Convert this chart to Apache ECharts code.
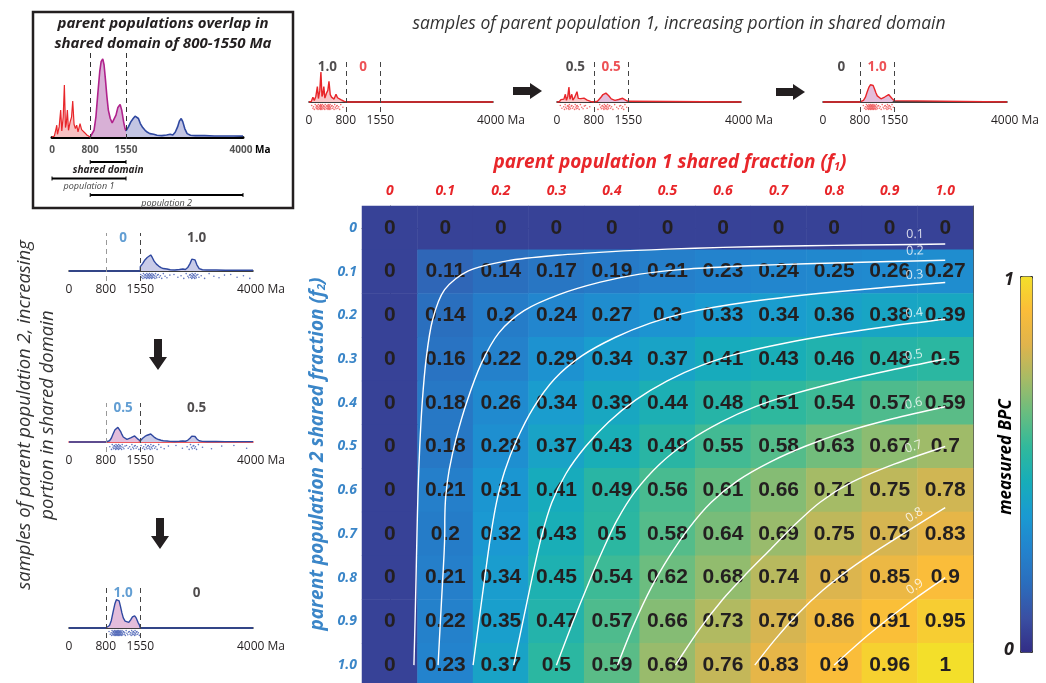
<!DOCTYPE html>
<html>
<head>
<meta charset="utf-8">
<script src="https://cdn.jsdelivr.net/npm/echarts@6/dist/echarts.min.js"></script>
<style>
html, body { margin: 0; padding: 0; background: #fff; }
#main { width: 1046px; height: 683px; }
</style>
</head>
<body>
<div id="main"></div>
<script>
// ---- heatmap data ----
const f1Labels = ['0', '0.1', '0.2', '0.3', '0.4', '0.5', '0.6', '0.7', '0.8', '0.9', '1.0'];
const f2Labels = ['0', '0.1', '0.2', '0.3', '0.4', '0.5', '0.6', '0.7', '0.8', '0.9', '1.0'];
// measured BPC, one row per f2, one column per f1
const bpcRows = [
  [0, 0, 0, 0, 0, 0, 0, 0, 0, 0, 0],
  [0, 0.11, 0.14, 0.17, 0.19, 0.21, 0.23, 0.24, 0.25, 0.26, 0.27],
  [0, 0.14, 0.2, 0.24, 0.27, 0.3, 0.33, 0.34, 0.36, 0.38, 0.39],
  [0, 0.16, 0.22, 0.29, 0.34, 0.37, 0.41, 0.43, 0.46, 0.48, 0.5],
  [0, 0.18, 0.26, 0.34, 0.39, 0.44, 0.48, 0.51, 0.54, 0.57, 0.59],
  [0, 0.18, 0.28, 0.37, 0.43, 0.49, 0.55, 0.58, 0.63, 0.67, 0.7],
  [0, 0.21, 0.31, 0.41, 0.49, 0.56, 0.61, 0.66, 0.71, 0.75, 0.78],
  [0, 0.2, 0.32, 0.43, 0.5, 0.58, 0.64, 0.69, 0.75, 0.79, 0.83],
  [0, 0.21, 0.34, 0.45, 0.54, 0.62, 0.68, 0.74, 0.8, 0.85, 0.9],
  [0, 0.22, 0.35, 0.47, 0.57, 0.66, 0.73, 0.79, 0.86, 0.91, 0.95],
  [0, 0.23, 0.37, 0.5, 0.59, 0.69, 0.76, 0.83, 0.9, 0.96, 1]
];
const contourLevels = [0.1, 0.2, 0.3, 0.4, 0.5, 0.6, 0.7, 0.8, 0.9];

// ---- age distributions, [age Ma, height] ----
const pop1Unique = [[0,0],[50,3],[85,25],[100,35],[115,8],[150,30],[182,80],[205,18],[235,60],[259,155],[282,28],[300,40],[322,80],[345,20],[380,45],[410,60],[434,107],[462,38],[490,25],[517,35],[545,15],[587,40],[620,22],[657,20],[690,12],[730,6],[770,3],[800,0]];
const sharedDomain = [[800,0],[840,3],[880,20],[920,60],[960,130],[1000,195],[1030,225],[1063,232],[1090,215],[1120,170],[1150,120],[1180,80],[1220,55],[1260,42],[1300,45],[1340,65],[1380,88],[1427,97],[1460,80],[1500,45],[1530,25],[1550,18]];
const pop2Unique = [[1550,18],[1600,30],[1650,45],[1700,55],[1740,62],[1776,65],[1810,55],[1850,40],[1900,28],[1950,20],[2000,14],[2050,10],[2091,12],[2130,8],[2200,5],[2300,4],[2400,6],[2476,8],[2530,6],[2580,14],[2630,30],[2670,48],[2706,55],[2740,45],[2780,25],[2830,10],[2900,5],[3000,4],[3200,4],[3400,3],[3600,3],[3800,3],[4000,3]];
const sampleFractions = [0, 0.5, 1];
const ageTicks = [0, 800, 1550, 4000];
const domainRanges = [
  { name: 'shared domain', from: 800, to: 1550 },
  { name: 'population 1', from: 0, to: 1550 },
  { name: 'population 2', from: 800, to: 4000 }
];
const rugCount = 70; // grains drawn under each sample curve
const rugRows = [0.25, 0.7, 0.45, 0.9, 0.1, 0.55, 0.8, 0.35];

const RED = '#e8262a';
const BLUE = '#3b86c8';
const INK = '#231f20';
const parula = ['#322d86', '#3a4fa2', '#2b6dbd', '#2383cd', '#1a9ad2', '#17adb9', '#30b99c',
  '#68bd80', '#a6bb66', '#e0b44c', '#fbbd39', '#f3df2a'];
const CELL_W = 555, CELL_H = 437; // px per unit fraction on the heatmap

// ---- contours (marching squares on the grid) ----
function contourLines(grid, level) {
  const lv = level + 1e-9;
  const segs = [];
  const cross = (a, b) => (a < lv) !== (b < lv);
  for (let i = 0; i < grid.length - 1; i++) {
    for (let j = 0; j < grid[0].length - 1; j++) {
      const e = [];
      if (cross(grid[i][j], grid[i][j + 1])) e.push(['h', i, j]);
      if (cross(grid[i][j + 1], grid[i + 1][j + 1])) e.push(['v', i, j + 1]);
      if (cross(grid[i + 1][j], grid[i + 1][j + 1])) e.push(['h', i + 1, j]);
      if (cross(grid[i][j], grid[i + 1][j])) e.push(['v', i, j]);
      if (e.length === 2) segs.push(e);
      else if (e.length === 4) { segs.push([e[0], e[1]]); segs.push([e[2], e[3]]); }
    }
  }
  const pt = ([t, i, j]) => {
    if (t === 'h') {
      const s = (lv - grid[i][j]) / (grid[i][j + 1] - grid[i][j]);
      return [(j + s) / 10, i / 10];
    }
    const s = (lv - grid[i][j]) / (grid[i + 1][j] - grid[i][j]);
    return [j / 10, (i + s) / 10];
  };
  const key = e => e.join(',');
  const adj = {};
  segs.forEach((s, k) => s.forEach(e => (adj[key(e)] = adj[key(e)] || []).push(k)));
  const used = segs.map(() => false);
  const lines = [];
  const order = segs.map((s, k) => k).sort((a, b) => {
    const da = Math.min(adj[key(segs[a][0])].length, adj[key(segs[a][1])].length);
    const db = Math.min(adj[key(segs[b][0])].length, adj[key(segs[b][1])].length);
    return da - db;
  });
  order.forEach(k0 => {
    if (used[k0]) return;
    let k = k0;
    let entry = adj[key(segs[k][0])].length === 1 ? segs[k][0] : segs[k][1];
    const line = [pt(entry)];
    while (k !== undefined) {
      used[k] = true;
      const out = key(segs[k][0]) === key(entry) ? segs[k][1] : segs[k][0];
      line.push(pt(out));
      entry = out;
      k = adj[key(out)].find(n => !used[n]);
    }
    lines.push(line);
  });
  return lines;
}

// light smoothing of a polyline, end points kept
function relax(line, passes) {
  let l = line;
  for (let p = 0; p < passes; p++) {
    l = l.map((q, i) => (i === 0 || i === l.length - 1) ? q
      : [(l[i - 1][0] + 2 * q[0] + l[i + 1][0]) / 4, (l[i - 1][1] + 2 * q[1] + l[i + 1][1]) / 4]);
  }
  return l;
}

// label spot: walk back from the right-hand end of a contour, then lift it off the line
function labelPoint(line, back, lift) {
  let pts = line.map(p => [p[0] * CELL_W, p[1] * CELL_H]);
  if (pts[0][0] > pts[pts.length - 1][0]) pts = pts.reverse();
  let left = back;
  for (let i = pts.length - 1; i > 0; i--) {
    const a = pts[i], b = pts[i - 1];
    const d = Math.hypot(b[0] - a[0], b[1] - a[1]);
    if (d >= left || i === 1) {
      const s = Math.min(1, left / d);
      const x = a[0] + s * (b[0] - a[0]), y = a[1] + s * (b[1] - a[1]);
      const dx = (a[0] - b[0]) / d, dy = (a[1] - b[1]) / d;
      const nx = dy, ny = -dx;
      return {
        x: (x + nx * lift) / CELL_W, y: (y + ny * lift) / CELL_H,
        rot: Math.atan2(-dy, dx) * 180 / Math.PI
      };
    }
    left -= d;
  }
  return null;
}

// ---- densities for the sample plots ----
function area(curve) {
  let a = 0;
  for (let i = 1; i < curve.length; i++) a += (curve[i][0] - curve[i - 1][0]) * (curve[i][1] + curve[i - 1][1]) / 2;
  return a;
}
// ages at evenly spaced quantiles of a curve
function quantileAges(curve, n) {
  const cum = [0];
  for (let i = 1; i < curve.length; i++) cum.push(cum[i - 1] + (curve[i][0] - curve[i - 1][0]) * (curve[i][1] + curve[i - 1][1]) / 2);
  const total = cum[cum.length - 1];
  const out = [];
  if (total <= 0) return out;
  for (let q = 0; q < n; q++) {
    const t = total * (q + 0.5) / n;
    let i = 1;
    while (cum[i] < t) i++;
    const s = (t - cum[i - 1]) / (cum[i] - cum[i - 1] || 1);
    out.push(curve[i - 1][0] + s * (curve[i][0] - curve[i - 1][0]));
  }
  return out;
}
const scaled = (curve, w) => curve.map(p => [p[0], p[1] * w]);
const peak = curve => Math.max.apply(null, curve.map(p => p[1]));
const areaU1 = area(pop1Unique), areaS = area(sharedDomain), areaU2 = area(pop2Unique);

const chart = echarts.init(document.getElementById('main'));
const grids = [], xAxes = [], yAxes = [], series = [];
const FONT = 'Open Sans';

// heatmap grid
grids.push({ left: 362, top: 206, width: 611, height: 481 });
xAxes.push({
  type: 'category', gridIndex: 0, position: 'top', data: f1Labels,
  axisLine: { lineStyle: { color: '#555' } },
  axisTick: { inside: true, alignWithLabel: true, length: 5, lineStyle: { color: '#555' } },
  axisLabel: { color: RED, fontWeight: 'bold', fontStyle: 'italic', fontSize: 14, fontFamily: FONT, margin: 8 },
  splitLine: { show: false }
});
xAxes.push({ type: 'value', gridIndex: 0, min: -0.05, max: 1.05, show: false });
yAxes.push({
  type: 'category', gridIndex: 0, inverse: true, data: f2Labels,
  axisLine: { lineStyle: { color: '#555' } },
  axisTick: { inside: true, alignWithLabel: true, length: 5, lineStyle: { color: '#555' } },
  axisLabel: { color: BLUE, fontWeight: 'bold', fontStyle: 'italic', fontSize: 14, fontFamily: FONT, margin: 5 },
  splitLine: { show: false }
});
yAxes.push({ type: 'value', gridIndex: 0, min: -0.05, max: 1.05, inverse: true, show: false });
yAxes.push({
  type: 'category', gridIndex: 0, inverse: true, position: 'right', data: f2Labels,
  axisLine: { lineStyle: { color: '#555' } },
  axisTick: { inside: true, alignWithLabel: true, length: 5, lineStyle: { color: '#555' } },
  axisLabel: { show: false }
});

const heatData = [];
bpcRows.forEach((row, i) => row.forEach((v, j) => heatData.push([j, i, v])));
series.push({
  type: 'heatmap', xAxisIndex: 0, yAxisIndex: 0, data: heatData,
  label: {
    show: true, formatter: p => String(p.value[2]), color: INK,
    fontSize: 21, fontWeight: 'bold', fontFamily: 'Liberation Sans'
  },
  itemStyle: { borderWidth: 0 },
  emphasis: { disabled: true }
});

const labelData = [];
contourLevels.forEach(level => {
  contourLines(bpcRows, level).forEach(raw => {
    const line = relax(raw, 3);
    series.push({
      type: 'line', xAxisIndex: 1, yAxisIndex: 1, data: line, showSymbol: false,
      smooth: 0.3, silent: true, z: 5,
      lineStyle: { color: '#fff', width: 1.4 }
    });
    const lp = labelPoint(line, 30, 10);
    if (lp) labelData.push({ value: [lp.x, lp.y], name: String(level), label: { rotate: lp.rot } });
  });
});
series.push({
  type: 'scatter', xAxisIndex: 1, yAxisIndex: 1, symbolSize: 0, data: labelData, z: 6, silent: true,
  label: { show: true, position: 'inside', formatter: p => p.name, color: '#fff', fontSize: 12.5, fontFamily: FONT }
});

// ---- inset ----
function ageAxis(gridIndex, opts) {
  return Object.assign({
    type: 'value', gridIndex: gridIndex, min: 0, max: 4000,
    splitLine: { show: false }, axisTick: { show: false },
    axisLine: { lineStyle: { color: '#000', width: 1.5 } },
    axisLabel: {
      customValues: ageTicks, color: INK, fontSize: 12, fontFamily: FONT, margin: 3,
      formatter: v => v === 4000 ? '{u|4000 Ma}' : String(v),
      rich: { u: { padding: [0, 0, 0, 16], fontSize: 12, fontFamily: FONT, color: INK } }
    }
  }, opts || {});
}
const dashed = (c800, c1550) => ({
  silent: true, symbol: 'none', label: { show: false },
  data: [
    { xAxis: 800, lineStyle: { color: c800, type: [5, 4], width: 1 } },
    { xAxis: 1550, lineStyle: { color: c1550, type: [5, 4], width: 1 } }
  ]
});

let g = grids.length;
grids.push({ left: 52, top: 53, width: 191, height: 86 });
xAxes.push(ageAxis(g, {
  axisLine: { lineStyle: { color: '#000', width: 3 } },
  axisLabel: {
    customValues: ageTicks, color: '#555', fontSize: 10, fontWeight: 'bold', fontFamily: FONT, margin: 6,
    formatter: v => v === 4000 ? '{u|4000} {m|Ma}' : String(v),
    rich: {
      u: { padding: [0, 0, 0, 14], fontSize: 10, fontWeight: 'bold', color: '#555', fontFamily: FONT },
      m: { fontSize: 10, fontWeight: 'bold', color: '#000', fontFamily: FONT }
    }
  }
}));
yAxes.push({ type: 'value', gridIndex: g, min: -6, max: 250, show: false });
const yi = yAxes.length - 1, xi = xAxes.length - 1;
[[pop1Unique, RED, '#f7c1c3'], [sharedDomain, '#b0228c', '#d8b0d6'], [pop2Unique, '#2f48a0', '#c3c5e3']].forEach((c, k) => {
  series.push({
    type: 'line', xAxisIndex: xi, yAxisIndex: yi, data: c[0], showSymbol: false, silent: true,
    lineStyle: { color: c[1], width: k === 0 ? 1.2 : 1.6 }, areaStyle: { color: c[2], opacity: 1 },
    markLine: k === 0 ? dashed('#333', '#333') : undefined
  });
});

// range bars under the inset
g = grids.length;
grids.push({ left: 52, top: 162, width: 191, height: 33 });
xAxes.push({ type: 'value', gridIndex: g, min: 0, max: 4000, show: false });
yAxes.push({ type: 'value', gridIndex: g, min: 0, max: 2, inverse: true, show: false });
series.push({
  type: 'custom', xAxisIndex: xAxes.length - 1, yAxisIndex: yAxes.length - 1, silent: true, clip: false,
  data: domainRanges.map((r, i) => [r.from, r.to, i]),
  renderItem: (params, api) => {
    const i = api.value(2);
    const a = api.coord([api.value(0), i]), b = api.coord([api.value(1), i]);
    const first = i === 0;
    return {
      type: 'group', children: [
        { type: 'line', shape: { x1: a[0], y1: a[1], x2: b[0], y2: b[1] }, style: { stroke: '#000', lineWidth: 2 } },
        { type: 'line', shape: { x1: a[0], y1: a[1] - 2, x2: a[0], y2: a[1] + 2 }, style: { stroke: '#000', lineWidth: 1 } },
        { type: 'line', shape: { x1: b[0], y1: b[1] - 2, x2: b[0], y2: b[1] + 2 }, style: { stroke: '#000', lineWidth: 1 } },
        {
          type: 'text', x: (a[0] + b[0]) / 2, y: a[1] + 8,
          style: {
            text: domainRanges[i].name, align: 'center', verticalAlign: 'middle',
            font: (first ? 'italic bold 10px ' : 'italic 9px ') + FONT, fill: first ? INK : '#444'
          }
        }
      ]
    };
  }
});

// ---- sample plots ----
const topPlots = [{ left: 309, top: 62, height: 50 }, { left: 557, top: 62, height: 50 }, { left: 823, top: 62, height: 50 }];
const leftPlots = [{ left: 69, top: 233, height: 48 }, { left: 69, top: 403, height: 49 }, { left: 69, top: 588, height: 50 }];
const k1 = 30 / peak(pop1Unique.map(p => [p[0], p[1] / areaU1]));
const k2 = 16 / peak(pop2Unique.map(p => [p[0], p[1] / areaU2]));
const fmt = v => v === 1 ? '1.0' : String(v);

function samplePlot(pos, f, which) {
  const gi = grids.length;
  grids.push({ left: pos.left, top: pos.top, width: 184, height: pos.height });
  const axisColor = which === 2 && f === 0.5 ? RED : '#000';
  xAxes.push(ageAxis(gi, { axisLine: { lineStyle: { color: axisColor, width: 1.5 } } }));
  const k = which === 1 ? k1 : k2;
  const above = pos.height - 10;
  yAxes.push({ type: 'value', gridIndex: gi, min: -10 / k, max: above / k, show: false });
  const x = xAxes.length - 1, y = yAxes.length - 1;
  const shared = scaled(sharedDomain, f / areaS);
  const uniq = which === 1 ? scaled(pop1Unique, (1 - f) / areaU1) : scaled(pop2Unique, (1 - f) / areaU2);
  const whole = which === 1
    ? uniq.concat(shared, [[1550, 0], [4000, 0]])
    : [[0, 0], [800, 0]].concat(shared, uniq);
  const lineColor = which === 1 ? RED : '#2f48a0';
  const uniqFill = which === 1 ? '#f8c6c8' : '#c9cbe8';
  [[uniq, uniqFill], [shared, '#e3bddb']].forEach(c => {
    series.push({
      type: 'line', xAxisIndex: x, yAxisIndex: y, data: c[0], showSymbol: false, silent: true,
      lineStyle: { width: 0 }, areaStyle: { color: c[1], opacity: 1 }
    });
  });
  // grains under the curve
  const n = Math.round(rugCount * (which === 1 ? 1 : 1.2));
  const ages = quantileAges(uniq, Math.round(n * (1 - f))).concat(quantileAges(shared, Math.round(n * f)));
  series.push({
    type: 'scatter', xAxisIndex: x, yAxisIndex: y, silent: true, symbolSize: 1.6,
    itemStyle: { color: which === 1 ? '#ef5a5c' : '#5067b8', opacity: 0.9 },
    data: ages.map((a, i) => [a, -(2 + 6 * rugRows[i % rugRows.length]) / k])
  });
  const c800 = which === 2 && f < 1 ? '#999' : '#444';
  series.push({
    type: 'line', xAxisIndex: x, yAxisIndex: y, data: whole, showSymbol: false, silent: true,
    lineStyle: { color: lineColor, width: 1.4 }, markLine: dashed(c800, '#444')
  });
  const sharedColor = which === 1 ? RED : BLUE;
  const items = which === 1
    ? [{ value: [400, above / k], name: fmt(1 - f), c: INK }, { value: [1175, above / k], name: fmt(f), c: sharedColor }]
    : [{ value: [1175, above / k], name: fmt(f), c: sharedColor }, { value: [2775, above / k], name: fmt(1 - f), c: INK }];
  items.forEach(d => { d.label = { color: d.c }; });
  series.push({
    type: 'scatter', xAxisIndex: x, yAxisIndex: y, symbolSize: 0, silent: true, data: items,
    label: {
      show: true, position: 'inside', offset: [0, 5], formatter: p => p.name, fontSize: 13.5, fontWeight: 'bold',
      fontFamily: FONT
    }
  });
}
topPlots.forEach((p, i) => samplePlot(p, sampleFractions[i], 1));
leftPlots.forEach((p, i) => samplePlot(p, sampleFractions[i], 2));

grids.forEach(gr => { gr.outerBoundsMode = 'none'; gr.containLabel = false; });

// ---- decorations ----
const arrowRight = (x, y) => ({
  type: 'polygon', silent: true,
  shape: { points: [[x, y - 4], [x + 17, y - 4], [x + 17, y - 8], [x + 29, y], [x + 17, y + 8], [x + 17, y + 4], [x, y + 4]] },
  style: { fill: INK }
});
const arrowDown = (x, y) => ({
  type: 'polygon', silent: true,
  shape: { points: [[x - 4, y], [x + 4, y], [x + 4, y + 18], [x + 9, y + 18], [x, y + 31], [x - 9, y + 18], [x - 4, y + 18]] },
  style: { fill: INK }
});

const graphic = [
  { type: 'rect', silent: true, shape: { x: 33, y: 12, width: 260, height: 196 }, style: { fill: 'none', stroke: INK, lineWidth: 2.5 } },
  { type: 'text', silent: true, x: 163, y: 34, style: { text: 'parent populations overlap in\nshared domain of 800-1550 Ma', align: 'center', verticalAlign: 'middle', font: 'italic bold 15px ' + FONT, fill: INK, lineHeight: 20 } },
  { type: 'text', silent: true, x: 679, y: 24, style: { text: 'samples of parent population 1, increasing portion in shared domain', align: 'center', verticalAlign: 'middle', font: 'italic 17.5px ' + FONT, fill: '#333' } },
  { type: 'text', silent: true, x: 36, y: 415, rotation: Math.PI / 2, style: { text: 'samples of parent population 2, increasing\nportion in shared domain', align: 'center', verticalAlign: 'middle', font: 'italic 18.5px ' + FONT, fill: '#333', lineHeight: 23 } },
  {
    type: 'text', silent: true, x: 670, y: 163,
    style: {
      text: 'parent population 1 shared fraction (f{s|1})', align: 'center', verticalAlign: 'middle',
      font: 'italic bold 19px ' + FONT, fill: RED,
      rich: { s: { fontSize: 11, fontStyle: 'italic', fontWeight: 'bold', fontFamily: FONT, fill: RED, padding: [8, 0, 0, 0] } }
    }
  },
  {
    type: 'text', silent: true, x: 318, y: 454, rotation: Math.PI / 2,
    style: {
      text: 'parent population 2 shared fraction (f{s|2})', align: 'center', verticalAlign: 'middle',
      font: 'italic bold 19px ' + FONT, fill: BLUE,
      rich: { s: { fontSize: 11, fontStyle: 'italic', fontWeight: 'bold', fontFamily: FONT, fill: BLUE, padding: [8, 0, 0, 0] } }
    }
  },
  { type: 'text', silent: true, x: 1006, y: 457, rotation: Math.PI / 2, style: { text: 'measured BPC', align: 'center', verticalAlign: 'middle', font: 'italic bold 17px ' + FONT, fill: '#000' } },
  { type: 'text', silent: true, x: 1009, y: 280, style: { text: '1', align: 'center', verticalAlign: 'middle', font: 'italic bold 18px ' + FONT, fill: INK } },
  { type: 'text', silent: true, x: 1009, y: 650, style: { text: '0', align: 'center', verticalAlign: 'middle', font: 'italic bold 18px ' + FONT, fill: INK } },
  arrowRight(513, 91), arrowRight(776, 92), arrowDown(158, 339), arrowDown(160, 518)
];

chart.setOption({
  animation: false,
  backgroundColor: '#fff',
  grid: grids,
  xAxis: xAxes,
  yAxis: yAxes,
  visualMap: {
    type: 'continuous', seriesIndex: 0, min: -0.06, max: 1, calculable: false,
    right: 13, top: 276, itemWidth: 12, itemHeight: 376, text: null, padding: 0,
    borderColor: '#333', borderWidth: 1, inRange: { color: parula }, hoverLink: false
  },
  graphic: graphic,
  series: series
});
</script>
</body>
</html>
